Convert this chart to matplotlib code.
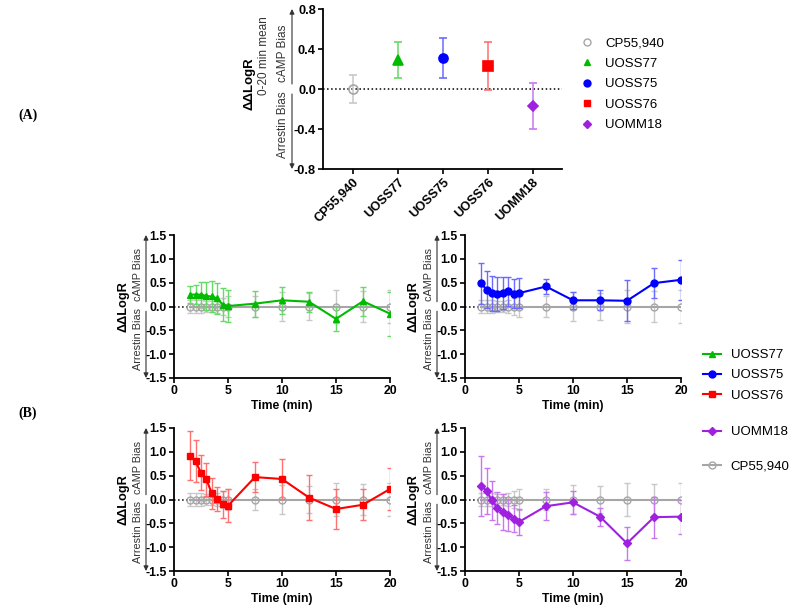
import matplotlib
matplotlib.use('Agg')
import matplotlib.pyplot as plt
from matplotlib.lines import Line2D
import matplotlib.transforms as mtransforms

plt.rcParams['font.family'] = ['Liberation Sans', 'DejaVu Sans']

W, H = 797, 616

# (A) mean bias over 0-20 min
compounds = ['CP55,940', 'UOSS77', 'UOSS75', 'UOSS76', 'UOMM18']
mean_bias = [0.0, 0.29, 0.31, 0.23, -0.17]
mean_err = [0.14, 0.18, 0.20, 0.24, 0.23]

# (B) time course
times = [1.5, 2, 2.5, 3, 3.5, 4, 4.5, 5, 7.5, 10, 12.5, 15, 17.5, 20]
cp_vals = [0, 0, 0, 0, 0, 0, 0, 0, 0, 0, 0, 0, 0, 0]
cp_err = [0.14, 0.14, 0.13, 0.12, 0.12, 0.13, 0.18, 0.22, 0.23, 0.31, 0.28, 0.34, 0.33, 0.35]
uoss77_vals = [0.25, 0.25, 0.25, 0.22, 0.21, 0.17, 0.04, 0.01, 0.06, 0.13, 0.10, -0.26, 0.11, -0.15]
uoss77_err = [0.17, 0.20, 0.27, 0.30, 0.33, 0.33, 0.35, 0.33, 0.27, 0.28, 0.21, 0.25, 0.30, 0.46]
uoss75_vals = [0.49, 0.35, 0.28, 0.26, 0.28, 0.32, 0.27, 0.28, 0.42, 0.13, 0.13, 0.12, 0.49, 0.56]
uoss75_err = [0.43, 0.39, 0.37, 0.36, 0.33, 0.30, 0.31, 0.31, 0.15, 0.18, 0.21, 0.43, 0.32, 0.42]
uoss76_vals = [0.92, 0.80, 0.56, 0.42, 0.13, 0.01, -0.10, -0.13, 0.47, 0.43, 0.04, -0.20, -0.11, 0.22]
uoss76_err = [0.51, 0.44, 0.37, 0.35, 0.33, 0.26, 0.28, 0.34, 0.32, 0.42, 0.48, 0.41, 0.33, 0.45]
uomm18_vals = [0.29, 0.18, -0.02, -0.18, -0.27, -0.32, -0.40, -0.47, -0.14, -0.06, -0.36, -0.92, -0.37, -0.36]
uomm18_err = [0.63, 0.49, 0.40, 0.34, 0.38, 0.34, 0.28, 0.27, 0.30, 0.24, 0.19, 0.34, 0.43, 0.36]

colors = {'CP55,940': '#a6a6a6', 'UOSS77': '#00bb00', 'UOSS75': '#0000ff',
          'UOSS76': '#ff0000', 'UOMM18': '#a020e0'}
ecolors = {'CP55,940': '#c8c8c8', 'UOSS77': '#66d966', 'UOSS75': '#6b6bff',
           'UOSS76': '#ff7070', 'UOMM18': '#c878ee'}
markers = {'CP55,940': 'o', 'UOSS77': '^', 'UOSS75': 'o', 'UOSS76': 's', 'UOMM18': 'D'}


def px_axes(fig, left, top, width, height):
    return fig.add_axes([left / W, 1 - (top + height) / H, width / W, height / H])


def style_axes(ax, fs):
    for s in ['top', 'right']:
        ax.spines[s].set_visible(False)
    for s in ['left', 'bottom']:
        ax.spines[s].set_linewidth(1.3)
    ax.tick_params(direction='out', length=3.6, width=1.2, labelsize=fs, pad=1.5)
    for lab in ax.get_xticklabels() + ax.get_yticklabels():
        lab.set_fontweight('bold')


def bias_labels(ax, width_px, yhi, gap, arrow_off, text_off, fs):
    xa = arrow_off / width_px
    xt = text_off / width_px
    for y0, y1 in [(gap, yhi), (-gap, -yhi)]:
        ax.annotate('', xy=(xa, y1), xytext=(xa, y0), xycoords=('axes fraction', 'data'),
                    arrowprops=dict(arrowstyle='-|>', color='#333333', lw=0.8,
                                    mutation_scale=7, shrinkA=0, shrinkB=0),
                    annotation_clip=False)
    tr = mtransforms.blended_transform_factory(ax.transAxes, ax.transData)
    ax.text(xt, yhi * 0.45, 'cAMP Bias', rotation=90, transform=tr, ha='center',
            va='center', fontsize=fs, color='#333333')
    ax.text(xt, -yhi * 0.45, 'Arrestin Bias', rotation=90, transform=tr, ha='center',
            va='center', fontsize=fs, color='#333333')


fig = plt.figure(figsize=(W / 100, H / 100), dpi=100)

# ---- panel A
axA = px_axes(fig, 323, 9, 239, 160)
xpos = list(range(len(compounds)))
axA.axhline(0, ls=':', color='black', lw=1.1, zorder=1)
for i, name in enumerate(compounds):
    face = 'none' if name == 'CP55,940' else colors[name]
    axA.errorbar([xpos[i]], [mean_bias[i]], yerr=[mean_err[i]], color=colors[name],
                 ecolor=ecolors[name], marker=markers[name], ms=6.5 if markers[name] != 'D' else 5,
                 mfc=face, mew=1.2, capsize=3, elinewidth=1.1, capthick=1.1, ls='none', zorder=3)
axA.set_xlim(-0.67, 4.65)
axA.set_ylim(-0.8, 0.8)
axA.set_yticks([-0.8, -0.4, 0.0, 0.4, 0.8])
axA.set_yticklabels(['-0.8', '-0.4', '0.0', '0.4', '0.8'])
axA.set_xticks(xpos)
axA.set_xticklabels(compounds, rotation=45, ha='right', rotation_mode='anchor')
style_axes(axA, 9.2)
bias_labels(axA, 239, 0.8, 0.05, -31, -40, 8.5)
fig.text(249 / W, 1 - 84 / H, 'ΔΔLogR', rotation=90, ha='center', va='center',
         fontsize=9.5, fontweight='bold')
fig.text(264 / W, 1 - 56 / H, '0-20 min mean', rotation=90, ha='center', va='center',
         fontsize=8.5, color='#333333')

# ---- panel B
series = [('UOSS77', uoss77_vals, uoss77_err), ('UOSS75', uoss75_vals, uoss75_err),
          ('UOSS76', uoss76_vals, uoss76_err), ('UOMM18', uomm18_vals, uomm18_err)]
boxes = [(174, 235), (465, 235), (174, 428), (465, 428)]
for (name, vals, err), (left, top) in zip(series, boxes):
    ax = px_axes(fig, left, top, 216, 143)
    ax.axhline(0, ls=':', color='black', lw=1.1, zorder=1)
    ax.errorbar(times, cp_vals, yerr=cp_err, color=colors['CP55,940'],
                ecolor=ecolors['CP55,940'], marker='o', ms=5, mfc='none', mew=1,
                lw=1.5, capsize=2.5, elinewidth=1, capthick=1, zorder=2)
    ax.errorbar(times, vals, yerr=err, color=colors[name], ecolor=ecolors[name],
                marker=markers[name], ms=5 if markers[name] != 'D' else 4.5, lw=1.5,
                capsize=2.5, elinewidth=1, capthick=1, zorder=3)
    ax.set_xlim(0, 20)
    ax.set_ylim(-1.5, 1.5)
    ax.set_xticks([0, 5, 10, 15, 20])
    ax.set_yticks([-1.5, -1.0, -0.5, 0.0, 0.5, 1.0, 1.5])
    ax.set_yticklabels(['-1.5', '-1.0', '-0.5', '0.0', '0.5', '1.0', '1.5'])
    style_axes(ax, 8.8)
    ax.set_xlabel('Time (min)', fontsize=8.7, fontweight='bold', labelpad=2)
    bias_labels(ax, 216, 1.5, 0.1, -28, -36, 7.8)
    ax.text(-51 / 216, 0, 'ΔΔLogR', rotation=90, ha='center', va='center',
            transform=mtransforms.blended_transform_factory(ax.transAxes, ax.transData),
            fontsize=9.2, fontweight='bold')

# ---- legends
handlesA = [Line2D([], [], ls='none', marker=markers[n], color=colors[n],
                   mfc='none' if n == 'CP55,940' else colors[n], ms=5 if n != 'UOMM18' else 4)
            for n in compounds]
fig.legend(handlesA, compounds, loc='upper left', bbox_to_anchor=(580 / W, 1 - 37 / H),
           frameon=False, fontsize=9.5, labelspacing=0.63, handlelength=1.0,
           handletextpad=0.9, borderpad=0, borderaxespad=0)


def line_handle(n):
    return Line2D([], [], color=colors[n], marker=markers[n], lw=1.5,
                  mfc='none' if n == 'CP55,940' else colors[n],
                  ms=5 if n != 'UOMM18' else 4)


names1 = ['UOSS77', 'UOSS75', 'UOSS76']
fig.legend([line_handle(n) for n in names1], names1, loc='upper left',
           bbox_to_anchor=(703 / W, 1 - 349 / H), frameon=False, fontsize=9.5,
           labelspacing=0.6, handlelength=1.36, handletextpad=0.75, borderpad=0,
           borderaxespad=0)
names2 = ['UOMM18', 'CP55,940']
fig.legend([line_handle(n) for n in names2], names2, loc='upper left',
           bbox_to_anchor=(703 / W, 1 - 426 / H), frameon=False, fontsize=9.5,
           labelspacing=1.65, handlelength=1.36, handletextpad=0.75, borderpad=0,
           borderaxespad=0)

fig.text(28 / W, 1 - 115 / H, '(A)', ha='center', va='center', fontsize=10,
         family='Liberation Serif', fontweight='bold')
fig.text(28 / W, 1 - 413 / H, '(B)', ha='center', va='center', fontsize=10,
         family='Liberation Serif', fontweight='bold')

fig.savefig('out.png', dpi=100)
